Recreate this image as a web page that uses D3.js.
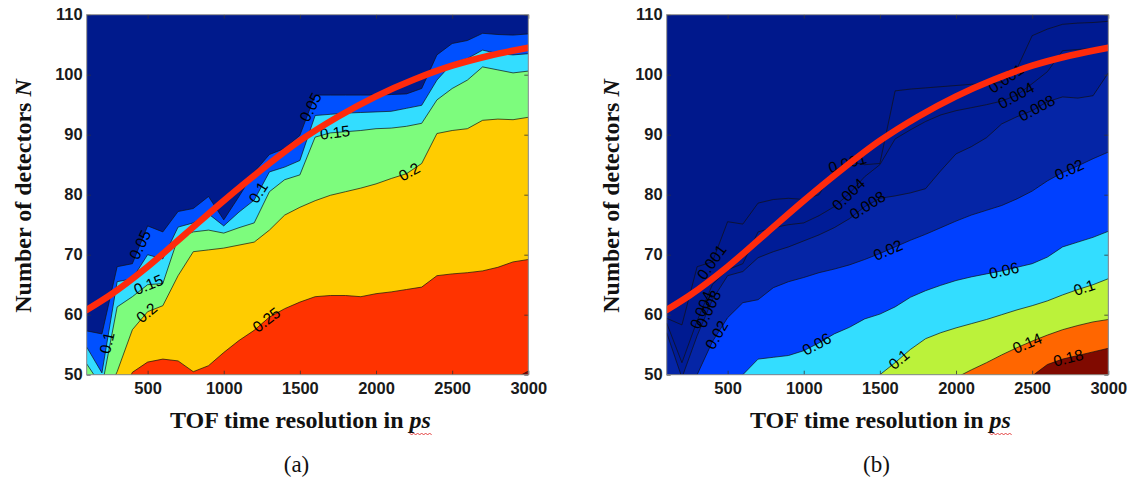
<!DOCTYPE html>
<html>
<head>
<meta charset="utf-8">
<script src="https://cdn.jsdelivr.net/npm/d3@7"></script>
<style>
  body { margin: 0; background: #fff; }
  svg { display: block; }
</style>
</head>
<body>
<svg id="fig" width="1133" height="480"></svg>
<script>
// TOF time resolution grid (ps)
var tofGrid = [100, 200, 300, 400, 500, 600, 700, 800, 900, 1000,
               1100, 1200, 1300, 1400, 1500, 1600, 1700, 1800, 1900, 2000,
               2100, 2200, 2300, 2400, 2500, 2600, 2700, 2800, 2900, 3000];

var xTicks = [500, 1000, 1500, 2000, 2500, 3000];
var yTicks = [50, 60, 70, 80, 90, 100, 110];

// panel (a): number of detectors N on each contour level
var levelsA = [0.05, 0.1, 0.15, 0.2, 0.25, 0.3];
var a05 = [57.3, 56.8, 68, 68.5, 74.8, 73.8, 77.2, 77.7, 79.7, 75.8, 79.7, 83.8, 86.7, 87.7, 89.9,
           96.6, 96.6, 96.6, 96.6, 96.6, 96.7, 96.8, 97.7, 103.3, 105.2, 105.7, 106.9, 106.7, 106.6, 106.8];
var a10 = [54.6, 50.3, 65.5, 66, 70, 69.3, 74.6, 75.3, 76.8, 74.8, 77.1, 79.1, 83.8, 84.6, 85.7,
           93.2, 93.4, 93.6, 93.7, 93.8, 93.9, 94.4, 94.9, 99.1, 101.9, 102.7, 104.1, 103.5, 103.3, 103.5];
var a15 = [51.8, 48, 61.3, 63, 65, 65.2, 72.8, 73.8, 74.1, 73.6, 74.5, 75.3, 80.5, 82.5, 83.3,
           89.6, 90.3, 90.5, 90.7, 91, 91.1, 91.4, 91.9, 95.8, 97.7, 99.1, 101.3, 100.8, 100.3, 100.6];
var a20 = [47, 45, 50.5, 57.5, 60.5, 61.5, 66.5, 70.5, 70.8, 71.1, 71.6, 72.1, 74.1, 76.6, 77.9,
           79, 79.9, 80.5, 81.1, 81.8, 82.7, 83.5, 85.2, 90.2, 90.7, 91, 92.4, 92.6, 92.5, 92.9];
var a25 = [40, 40, 45, 50.4, 52.1, 52.6, 52.3, 50.5, 51.5, 53.7, 55.7, 57.4, 59.6, 61, 62.1,
           63, 63.2, 63.2, 63, 63.5, 63.8, 64.2, 64.6, 66.5, 66.8, 67, 67.3, 67.9, 68.8, 69.2];
var a30 = [40, 40, 40, 40, 40, 40, 40, 40, 40, 40, 40, 40, 40, 40, 40,
           40, 40, 40, 40, 40, 40, 40, 40, 40, 40, 40, 40, 45, 49.2, 50.6];

// panel (b)
var levelsB = [0.001, 0.004, 0.008, 0.02, 0.06, 0.1, 0.14, 0.18];
var b001 = [59.4, 58.3, 68, 68.8, 75.5, 75.1, 78.6, 79.2, 79.4, 79.2, 80, 84, 85.5, 85, 85.2,
            97.3, 97.6, 97.8, 98, 98.2, 98.4, 98.5, 98.7, 101, 106.5, 107.6, 108.4, 108.6, 108.7, 108.9];
var b004 = [58.6, 52, 59, 65, 67.5, 68.5, 73.8, 74.5, 75, 75.3, 76.5, 78, 80.2, 83, 85,
            89.3, 90.8, 92.2, 93.3, 94, 94.5, 95, 95.6, 96.6, 98.5, 100.5, 104, 104.2, 104.4, 104.7];
var b008 = [57, 49.5, 56.5, 62.5, 66.5, 67.2, 69.5, 70.5, 71.3, 72.3, 73.3, 74.5, 76, 78, 79.4,
            79.8, 80.3, 81, 84, 86.8, 88, 89.5, 91.8, 93, 94, 95.5, 96.3, 96.1, 96.5, 100.3];
var b02  = [45, 45, 50, 55.5, 59.5, 62, 62.5, 64.5, 65.5, 66.2, 67, 67.6, 68.3, 69.2, 70.2,
            71.3, 72.4, 73.4, 74.5, 75.6, 76.6, 77.4, 78.2, 79.3, 80.6, 82.3, 83.7, 84.8, 86, 87.1];
var b06  = [45, 45, 45, 45, 45, 50, 52.6, 52.9, 53.2, 54, 55.3, 56.8, 57.9, 59.3, 60.1,
            61.3, 62.9, 64, 64.9, 65.7, 66.3, 66.8, 67.3, 67.9, 68.5, 69.6, 71.3, 72.1, 72.9, 73.9];
var b10  = [45, 45, 45, 45, 45, 45, 45, 45, 45, 45, 45, 45, 45, 45, 50,
            52, 54.2, 56, 57, 57.8, 58.5, 59.2, 60, 60.8, 61.5, 62.3, 63.3, 64.2, 65, 66];
var b14  = [45, 45, 45, 45, 45, 45, 45, 45, 45, 45, 45, 45, 45, 45, 45,
            45, 45, 45, 45, 49.5, 50.8, 52, 53.3, 54.5, 55.6, 56.6, 57.5, 58.2, 58.8, 59.2];
var b18  = [45, 45, 45, 45, 45, 45, 45, 45, 45, 45, 45, 45, 45, 45, 45,
            45, 45, 45, 45, 45, 45, 45, 45, 45, 49.8, 51.7, 52.6, 53.2, 53.8, 54.4];

// optimal N curve (red), same in both panels
var optTof = [100, 250, 500, 750, 1000, 1250, 1500, 1750, 2000, 2250, 2500, 2750, 3000];
var optN   = [60.8, 63.2, 68, 73.5, 79, 84.2, 89, 93, 96.4, 99.2, 101.5, 103.2, 104.5];

// contour label placements (level, tof)
var labelLevelA = [0.05, 0.1, 0.15, 0.2, 0.25, 0.1, 0.05, 0.15, 0.2];
var labelTofA   = [450, 233, 505, 494, 1280, 1227, 1570, 1730, 2219];
var labelLevelB = [0.001, 0.004, 0.008, 0.02, 0.001, 0.004, 0.008, 0.02, 0.06,
                   0.001, 0.004, 0.008, 0.02, 0.06, 0.1, 0.1, 0.14, 0.18];
var labelTofB   = [395, 330, 374, 428, 1286, 1293, 1418, 1553, 1085,
                   2328, 2394, 2530, 2743, 2315, 2842, 1625, 2468, 2737];

var fillsA = ["#001a8c", "#0050ff", "#33ddff", "#7dfc7d", "#ffcc00", "#ff3300", "#880000"];
var fillsB = ["#00188c", "#001a91", "#001c97", "#0525a6", "#0040ff", "#33ddff", "#bbf23a", "#ff6600", "#800a00"];

var svg = d3.select("#fig");
var sans = "Arial, 'Liberation Sans', Helvetica, sans-serif";
var serif = "'Times New Roman', 'Liberation Serif', Times, serif";

function drawPanel(id, left, right, levels, curves, fills, labLevels, labTofs, caption, titleX) {
    var top = 14.7, bottom = 374.7;
    var x = d3.scaleLinear().domain([100, 3000]).range([left, right]);
    var y = d3.scaleLinear().domain([50, 110]).range([bottom, top]);

    svg.append("clipPath").attr("id", "clip" + id)
        .append("rect").attr("x", left).attr("y", top)
        .attr("width", right - left).attr("height", bottom - top);

    var g = svg.append("g").attr("clip-path", "url(#clip" + id + ")");

    g.append("rect").attr("x", left).attr("y", top)
        .attr("width", right - left).attr("height", bottom - top)
        .attr("fill", fills[0]);

    var area = d3.area()
        .x(function(d, i) { return x(tofGrid[i]); })
        .y0(y(30))
        .y1(function(d) { return y(d); });
    var line = d3.line()
        .x(function(d, i) { return x(tofGrid[i]); })
        .y(function(d) { return y(d); });

    curves.forEach(function(c, i) {
        g.append("path").attr("d", area(c)).attr("fill", fills[i + 1]);
    });
    curves.forEach(function(c) {
        g.append("path").attr("d", line(c))
            .attr("fill", "none").attr("stroke", "#111").attr("stroke-width", 0.7);
    });

    // contour labels
    labLevels.forEach(function(lev, i) {
        var c = curves[levels.indexOf(lev)];
        var f = d3.scaleLinear().domain(tofGrid).range(c);
        var t = labTofs[i];
        var x1 = x(t - 60), y1 = y(f(t - 60)), x2 = x(t + 60), y2 = y(f(t + 60));
        var ang = Math.atan2(y2 - y1, x2 - x1) * 180 / Math.PI;
        g.append("text")
            .attr("transform", "translate(" + x(t) + "," + y(f(t)) + ") rotate(" + ang + ")")
            .attr("text-anchor", "middle")
            .attr("dy", "0.35em")
            .style("font-family", sans)
            .style("font-size", "15.5px")
            .attr("fill", "#000")
            .text(lev);
    });

    // optimal curve
    var redLine = d3.line()
        .x(function(d, i) { return x(optTof[i]); })
        .y(function(d) { return y(d); })
        .curve(d3.curveMonotoneX);
    g.append("path").attr("d", redLine(optN))
        .attr("fill", "none").attr("stroke", "#ff2a0c").attr("stroke-width", 6.5)
        .attr("stroke-linecap", "round");

    // axes with inward ticks on all four sides
    var ax = svg.append("g").attr("transform", "translate(0," + bottom + ")")
        .call(d3.axisBottom(x).tickValues(xTicks).tickFormat(d3.format("d"))
            .tickSizeInner(-4).tickSizeOuter(0).tickPadding(8));
    var ay = svg.append("g").attr("transform", "translate(" + left + ",0)")
        .call(d3.axisLeft(y).tickValues(yTicks).tickFormat(d3.format("d"))
            .tickSizeInner(-4).tickSizeOuter(0).tickPadding(4));
    var at = svg.append("g").attr("transform", "translate(0," + top + ")")
        .call(d3.axisTop(x).tickValues(xTicks).tickSizeInner(-4).tickSizeOuter(0).tickFormat(""));
    var ar = svg.append("g").attr("transform", "translate(" + right + ",0)")
        .call(d3.axisRight(y).tickValues(yTicks).tickSizeInner(-4).tickSizeOuter(0).tickFormat(""));
    [ax, ay, at, ar].forEach(function(a) {
        a.select(".domain").remove();
        a.selectAll(".tick line").attr("stroke", "#333").attr("stroke-width", 0.8);
        a.selectAll(".tick text")
            .style("font-family", sans).style("font-size", "16.5px")
            .style("font-weight", "bold").attr("fill", "#1a1a1a");
    });

    svg.append("rect").attr("x", left).attr("y", top)
        .attr("width", right - left).attr("height", bottom - top)
        .attr("fill", "none").attr("stroke", "#8a8a8a").attr("stroke-width", 1);

    // titles
    var cx = (left + right) / 2 - 7;
    var xt = svg.append("text")
        .attr("x", cx).attr("y", 428)
        .attr("text-anchor", "middle")
        .style("font-family", serif).style("font-size", "24px").style("font-weight", "bold")
        .attr("fill", "#111");
    xt.append("tspan").text("TOF time resolution in ");
    xt.append("tspan").style("font-style", "italic").text("ps");

    // red spell-check squiggle under "ps"
    var node = xt.node();
    var n = node.getNumberOfChars();
    var sx = node.getStartPositionOfChar(n - 2).x, ex = node.getEndPositionOfChar(n - 1).x;
    var sq = "M" + sx + ",433";
    for (var px = sx, k = 0; px < ex; px += 2, k++) {
        sq += "L" + (px + 2) + "," + (k % 2 === 0 ? 435 : 433);
    }
    svg.append("path").attr("d", sq).attr("fill", "none")
        .attr("stroke", "#e03030").attr("stroke-width", 0.9);

    var yt = svg.append("text")
        .attr("transform", "translate(" + titleX + ",196) rotate(-90)")
        .attr("text-anchor", "middle")
        .style("font-family", serif).style("font-size", "24px").style("font-weight", "bold")
        .attr("fill", "#111");
    yt.append("tspan").text("Number of detectors ");
    yt.append("tspan").style("font-style", "italic").text("N");

    svg.append("text")
        .attr("x", cx - 4).attr("y", 472)
        .attr("text-anchor", "middle")
        .style("font-family", serif).style("font-size", "23px")
        .attr("fill", "#111")
        .text(caption);
}

drawPanel("a", 86.7, 528.3, levelsA, [a05, a10, a15, a20, a25, a30], fillsA,
          labelLevelA, labelTofA, "(a)", 31);
drawPanel("b", 666.7, 1108.3, levelsB, [b001, b004, b008, b02, b06, b10, b14, b18], fillsB,
          labelLevelB, labelTofB, "(b)", 619);
</script>
</body>
</html>
